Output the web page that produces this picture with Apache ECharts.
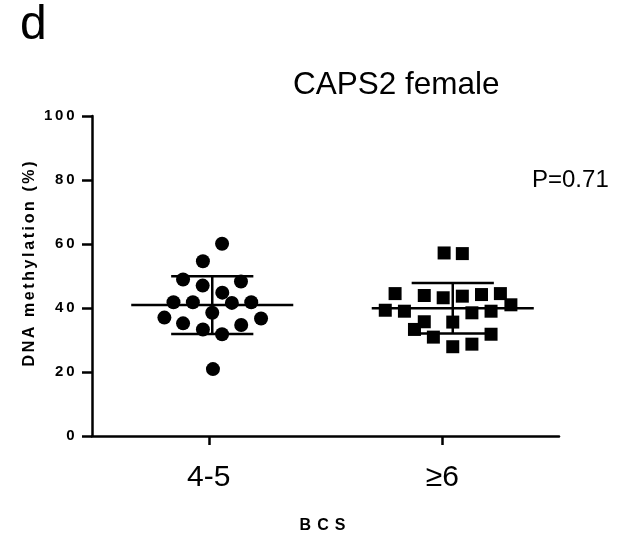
<!DOCTYPE html>
<html>
<head>
<meta charset="utf-8">
<script src="https://cdn.jsdelivr.net/npm/echarts@6/dist/echarts.min.js"></script>
<style>
  html, body { margin: 0; padding: 0; background: #fff; }
  #chart { width: 621px; height: 540px; }
</style>
</head>
<body>
<div id="chart"></div>
<script>
// groups on the x axis (value axis 0..2, groups sit at 0.5 and 1.5)
var groups = ['4-5', '≥6'];
var groupTicks = [0.5, 1.5];

// mean and SD
var groupCenters = [0.515, 1.545];
var meanValues = [40.9, 39.9];
var sdValues = [9.0, 7.9];

// BCS 4-5 (circles)
var lowX = [0.557, 0.475, 0.390, 0.474, 0.638, 0.558, 0.349, 0.432, 0.599,
  0.682, 0.310, 0.390, 0.515, 0.724, 0.475, 0.557, 0.639, 0.518];
var lowY = [60.1, 54.6, 48.9, 47.0, 48.3, 44.8, 41.8, 41.8, 41.6,
  41.8, 37.0, 35.2, 38.5, 36.7, 33.3, 31.8, 34.7, 20.9];

// BCS >=6 (squares)
var highX = [1.508, 1.586, 1.298, 1.423, 1.504, 1.586, 1.668, 1.749, 1.256, 1.338,
  1.794, 1.627, 1.709, 1.423, 1.545, 1.381, 1.462, 1.709, 1.545, 1.627];
var highY = [57.2, 57.0, 44.5, 43.9, 43.2, 43.7, 44.2, 44.5, 39.3, 39.0,
  41.0, 38.5, 39.0, 35.7, 35.6, 33.3, 30.9, 31.8, 27.9, 28.7];

var FONT = 'Liberation Sans';

function pairs(xs, ys) {
  return xs.map(function (x, i) { return [x, ys[i]]; });
}

// spread letters out a bit, like the original export
function spaced(text) {
  return String(text).split('').map(function (c) {
    return '{s|' + c + '}';
  }).join('');
}

function boldStyle(size, pad) {
  return {
    fontSize: size, fontWeight: 'bold', fontFamily: FONT, color: '#000',
    rich: { s: { fontSize: size, fontWeight: 'bold', fontFamily: FONT, color: '#000', padding: [0, pad] } }
  };
}

var chart = echarts.init(document.getElementById('chart'));

var yLabel = boldStyle(15, 1.4);
yLabel.formatter = function (v) { return spaced(v); };
yLabel.margin = 16;

var yName = boldStyle(16, 1.3);
yName.padding = [0, 0, 0, 24];   // the original label sits a little above centre

var xName = boldStyle(16, 3);
xName.padding = [0, 6, 0, 0];

var xLabel = {
  customValues: groupTicks,
  formatter: function (v) { return groups[Math.round(v - 0.5)]; },
  fontSize: 30,
  fontFamily: FONT,
  color: '#000',
  margin: 27
};

chart.setOption({
  backgroundColor: '#fff',
  animation: false,
  grid: { left: 92, right: 62, top: 116, bottom: 104 },
  graphic: [
    { type: 'text', left: 20, top: 2, style: { text: 'd', font: '48px "Liberation Sans"', fill: '#000' } },
    { type: 'text', left: 293, top: 69, style: { text: 'CAPS2 female', font: '31.5px "Liberation Sans"', fill: '#000' } },
    { type: 'text', left: 532, top: 168, style: { text: 'P=0.71', font: '24px "Liberation Sans"', fill: '#000' } }
  ],
  xAxis: {
    type: 'value',
    min: 0,
    max: 2,
    splitLine: { show: false },
    axisLine: { lineStyle: { color: '#000', width: 2.5 } },
    axisTick: { customValues: groupTicks, length: 9, lineStyle: { color: '#000', width: 2.5 } },
    axisLabel: xLabel,
    name: spaced('BCS'),
    nameLocation: 'middle',
    nameGap: 82,
    nameMoveOverlap: false,
    nameTextStyle: xName
  },
  yAxis: {
    type: 'value',
    min: 0,
    max: 100,
    interval: 20,
    splitLine: { show: false },
    axisLine: { show: true, lineStyle: { color: '#000', width: 2.5 } },
    axisTick: { show: true, length: 10, lineStyle: { color: '#000', width: 2.5 } },
    axisLabel: yLabel,
    name: spaced('DNA methylation (%)'),
    nameLocation: 'middle',
    nameGap: 54,
    nameMoveOverlap: false,
    nameTextStyle: yName
  },
  series: [
    {
      name: '4-5',
      type: 'scatter',
      symbol: 'circle',
      symbolSize: 14,
      itemStyle: { color: '#000', opacity: 1 },
      data: pairs(lowX, lowY)
    },
    {
      name: '≥6',
      type: 'scatter',
      symbol: 'rect',
      symbolSize: 13,
      itemStyle: { color: '#000', opacity: 1 },
      data: pairs(highX, highY)
    },
    {
      // mean line with SD whiskers
      type: 'custom',
      z: 3,
      data: groupCenters.map(function (c, i) { return [c, meanValues[i], sdValues[i]]; }),
      renderItem: function (params, api) {
        var cx = api.value(0), m = api.value(1), sd = api.value(2);
        var l = api.coord([cx - 0.347, m]);
        var r = api.coord([cx + 0.347, m]);
        var t = api.coord([cx, m + sd]);
        var b = api.coord([cx, m - sd]);
        var cap = api.size([0.176, 0])[0];
        var st = { stroke: '#000', lineWidth: 2.5, fill: null };
        return {
          type: 'group',
          children: [
            { type: 'line', shape: { x1: l[0], y1: l[1], x2: r[0], y2: r[1] }, style: st },
            { type: 'line', shape: { x1: t[0], y1: t[1], x2: b[0], y2: b[1] }, style: st },
            { type: 'line', shape: { x1: t[0] - cap, y1: t[1], x2: t[0] + cap, y2: t[1] }, style: st },
            { type: 'line', shape: { x1: b[0] - cap, y1: b[1], x2: b[0] + cap, y2: b[1] }, style: st }
          ]
        };
      }
    }
  ]
});
</script>
</body>
</html>
